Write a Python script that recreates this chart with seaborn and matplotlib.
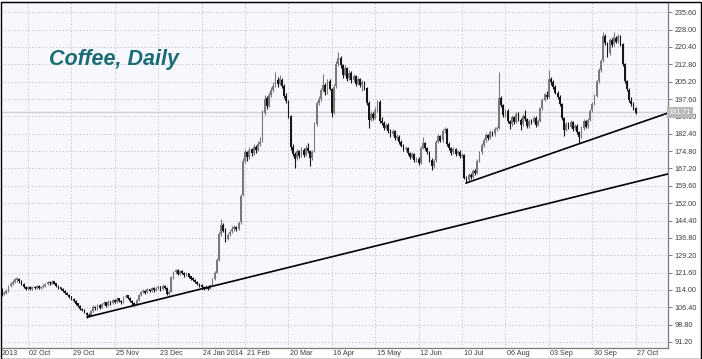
import numpy as np
import pandas as pd
import matplotlib
matplotlib.use("Agg")
import matplotlib.pyplot as plt
import matplotlib.transforms as mtrans
import seaborn as sns

# ---------------- data ----------------
opens = [114.6,112.2,112.6,113.4,115.6,116.6,117.4,118.5,119.0,117.9,116.4,115.3,114.5,115.2,114.3,115.4,114.8,115.7,114.9,115.3,
         115.8,116.6,117.4,116.8,117.7,116.9,115.6,115.1,114.3,113.4,112.7,111.9,111.2,110.1,109.1,108.1,107.0,105.7,105.3,104.0,
         102.9,102.7,104.9,106.4,105.8,107.4,106.3,107.7,108.5,107.2,109.0,108.1,109.6,108.7,110.3,109.0,108.6,110.9,111.6,110.3,
         109.3,108.2,107.7,109.6,111.7,113.0,113.7,112.9,114.3,113.6,115.0,113.9,114.7,115.6,114.2,115.9,114.8,112.2,113.1,119.6,
         121.9,122.7,121.1,122.2,121.4,120.5,121.3,119.9,119.1,118.3,117.6,116.7,116.1,115.2,114.5,115.4,114.6,116.1,118.9,121.6,
         127.1,138.6,142.4,140.1,136.5,138.3,139.6,140.9,141.4,140.7,143.6,155.4,170.6,174.3,172.1,175.6,173.9,176.7,175.3,177.9,
         179.5,191.6,197.9,194.7,199.3,201.6,203.5,205.9,204.4,206.1,203.4,199.1,196.7,190.1,176.6,173.5,171.6,174.9,172.7,175.5,
         173.3,176.2,174.9,171.7,174.6,186.6,195.9,197.6,201.6,203.9,200.7,205.6,202.1,191.6,203.1,213.1,215.5,212.3,208.1,211.1,
         206.6,209.0,205.9,207.5,204.3,206.3,203.9,204.9,202.4,195.9,188.6,191.1,189.5,192.9,196.4,188.1,187.1,185.1,186.2,183.7,
         182.3,183.4,180.5,181.1,178.9,177.3,175.7,176.2,174.1,172.3,173.4,170.9,171.5,169.6,176.3,178.4,176.1,174.4,170.9,168.3,
         170.7,178.9,181.4,179.5,183.9,184.4,178.1,176.1,174.2,175.7,173.5,174.6,172.7,173.0,163.3,162.1,164.4,163.6,166.1,165.1,
         170.6,174.3,177.5,179.7,181.7,180.7,183.1,182.1,184.5,185.1,198.1,194.9,190.6,192.5,187.9,186.6,189.7,187.6,191.1,188.5,
         186.5,190.0,188.9,185.7,188.1,187.5,189.4,186.3,188.1,193.6,197.3,199.5,198.5,206.4,205.1,202.9,200.3,198.5,195.3,189.1,
         184.1,186.7,185.3,187.4,184.7,185.9,183.0,181.1,184.9,187.8,185.6,188.5,192.6,195.7,198.9,205.4,210.3,214.5,225.1,221.9,
         217.7,223.4,221.5,224.5,222.9,224.9,221.5,212.9,205.3,201.7,196.9,195.3,193.5]
highs = [115.0,113.4,114.2,116.1,117.4,118.2,119.1,119.8,119.4,118.3,116.9,115.8,115.9,115.6,115.8,115.9,116.2,116.0,115.9,116.4,
         117.0,117.9,117.8,118.2,118.0,117.2,116.1,115.4,114.7,113.9,113.1,112.4,111.5,110.6,109.5,108.4,107.3,106.1,105.6,104.4,
         103.8,105.3,107.2,106.9,107.9,107.8,108.4,109.1,108.9,109.6,109.3,110.2,110.0,110.9,110.6,109.5,111.4,112.2,111.9,110.7,
         109.6,108.6,110.1,112.3,113.5,114.3,114.0,114.8,114.6,115.5,115.3,115.2,116.2,115.9,116.4,116.2,115.1,113.8,120.2,122.5,
         123.3,123.0,122.8,122.6,121.9,121.8,121.6,120.3,119.5,118.8,118.0,117.1,116.5,115.6,116.0,115.8,116.7,119.4,122.3,128.0,
         139.2,145.0,143.5,141.0,139.0,140.4,141.8,142.5,142.0,144.3,156.2,171.8,175.6,175.0,176.8,176.3,177.9,177.4,179.2,181.0,
         192.6,199.3,199.0,200.5,203.0,205.1,209.6,207.4,208.2,206.8,204.0,200.3,197.4,190.6,177.8,174.6,175.8,175.5,176.4,176.1,
         177.6,178.2,175.4,175.2,187.5,196.6,198.8,202.6,208.5,204.6,206.4,206.2,202.6,204.0,214.2,218.2,216.3,213.0,212.3,211.8,
         210.2,209.8,208.6,208.2,207.4,206.9,205.9,205.4,202.9,196.6,192.2,191.8,193.9,197.3,197.0,189.6,187.8,187.2,186.9,184.3,
         184.4,184.0,182.2,181.7,179.6,177.8,177.2,176.8,174.6,174.4,173.9,172.4,172.0,177.0,180.8,179.0,176.8,175.0,171.6,171.4,
         179.6,182.4,182.0,184.6,185.4,184.9,178.9,176.8,176.6,176.3,175.5,175.2,173.8,173.4,164.0,165.2,165.0,167.0,166.8,171.2,
         175.0,178.2,180.4,182.6,182.4,184.0,183.8,185.2,185.9,209.5,199.0,195.6,193.4,193.1,188.6,190.6,190.3,192.0,191.8,189.1,
         190.9,192.8,189.5,189.0,188.8,190.3,190.0,188.8,194.3,198.0,200.4,201.2,210.3,207.2,205.8,203.6,201.1,199.2,196.0,189.8,
         187.6,187.4,188.3,188.0,186.8,186.5,183.7,185.6,188.7,188.5,189.2,193.3,196.4,199.6,206.1,211.0,215.2,226.8,226.0,222.6,
         224.3,224.2,227.0,225.4,226.1,225.6,222.2,213.6,206.0,202.4,198.6,196.1,194.2]
lows = [111.3,111.6,112.1,113.0,115.1,116.0,116.9,117.6,117.2,116.0,114.7,113.9,114.1,113.8,114.0,114.3,114.5,114.2,114.4,114.9,
        115.4,116.2,116.3,116.5,116.4,115.3,114.6,113.8,113.1,112.2,111.6,110.6,109.6,108.8,107.6,106.5,105.4,104.7,103.7,101.7,
        102.0,102.4,104.5,105.2,105.4,105.7,106.0,107.2,106.6,106.9,107.5,107.8,108.1,108.4,108.7,108.0,108.3,110.4,109.9,108.7,
        107.6,107.1,107.4,109.2,111.3,112.5,112.2,112.6,112.9,113.2,113.3,113.5,114.3,113.7,113.9,114.4,111.6,111.8,112.9,119.0,
        121.1,120.4,120.6,120.8,119.8,120.0,119.3,118.5,117.7,117.0,116.1,115.5,114.6,114.0,114.2,114.0,114.3,115.8,118.5,121.2,
        126.8,137.8,139.2,135.2,135.8,137.5,138.9,140.0,139.6,140.2,143.0,155.0,169.5,170.4,171.5,172.5,173.2,174.0,174.8,177.2,
        179.0,190.8,193.4,194.0,198.6,200.8,202.9,203.0,203.6,202.6,198.2,195.9,189.4,175.2,172.6,167.4,170.9,171.8,172.1,172.3,
        172.8,174.0,168.3,170.8,174.2,186.0,194.8,196.9,200.8,199.5,200.0,201.4,189.8,191.0,202.6,212.2,211.4,207.0,207.6,205.6,
        205.8,204.8,205.0,203.3,203.6,202.9,201.2,201.6,195.2,185.0,187.8,188.4,188.8,192.0,187.2,186.4,184.2,184.4,182.9,181.0,
        181.6,179.6,179.8,177.9,176.4,174.7,175.0,173.1,171.4,171.6,170.0,170.2,168.6,169.2,175.6,175.2,173.6,170.2,166.5,167.6,
        170.2,178.2,178.6,179.0,182.6,177.2,175.4,173.2,173.6,172.6,172.9,171.8,171.9,162.4,160.8,161.5,162.6,163.0,164.2,164.6,
        170.0,173.6,176.8,179.0,179.8,180.1,181.2,181.6,183.6,184.6,194.2,189.6,189.9,187.2,184.6,186.0,186.7,187.0,187.8,184.0,
        186.0,188.2,184.8,185.1,186.6,186.9,185.4,185.7,187.6,193.0,196.6,197.6,198.0,203.8,202.2,199.6,197.8,194.6,188.4,181.2,
        183.4,184.4,184.7,183.8,184.0,182.3,178.4,180.5,184.2,184.7,185.0,188.0,192.0,195.0,198.3,204.8,209.6,214.0,221.2,216.2,
        217.1,220.6,220.9,222.0,222.3,220.8,212.2,204.6,201.0,196.2,194.6,192.8,191.0]
closes = [112.0,112.5,113.5,115.5,116.8,117.5,118.6,119.2,117.8,116.5,115.2,114.6,115.1,114.4,115.3,114.9,115.6,114.8,115.4,115.9,
          116.5,117.3,116.9,117.6,116.8,115.7,115.0,114.2,113.5,112.6,112.0,111.1,110.0,109.2,108.0,106.9,105.8,105.2,104.1,103.0,
          102.6,104.8,106.5,105.9,107.3,106.2,107.8,108.4,107.1,108.9,108.0,109.5,108.6,110.2,109.1,108.5,110.8,111.5,110.4,109.2,
          108.1,107.6,109.5,111.8,112.9,113.6,112.8,114.2,113.5,114.9,113.8,114.6,115.5,114.1,115.8,114.9,112.1,113.0,119.5,121.8,
          122.6,121.0,122.1,121.3,120.4,121.2,119.8,119.0,118.2,117.5,116.6,116.0,115.1,114.6,115.3,114.5,116.0,118.8,121.5,127.0,
          138.5,142.6,140.0,136.4,138.2,139.5,140.8,141.5,140.6,143.5,155.0,170.5,174.2,172.0,175.5,173.8,176.6,175.2,177.8,179.0,
          191.5,197.8,194.6,199.2,201.5,203.4,205.8,204.3,206.2,203.5,199.0,196.8,190.2,176.5,173.4,171.5,174.8,172.6,175.4,173.2,
          176.1,174.8,171.6,174.5,186.5,195.8,197.5,201.5,203.8,200.6,205.5,202.2,191.5,203.0,213.0,215.6,212.4,208.0,211.2,206.5,
          209.1,205.8,207.6,204.2,206.4,203.8,205.0,202.5,196.0,188.5,191.2,189.4,192.8,196.5,188.0,187.2,185.0,186.3,183.8,182.2,
          183.5,180.4,181.2,178.8,177.2,175.6,176.3,174.0,172.2,173.5,170.8,171.6,169.5,176.2,178.5,176.0,174.5,171.0,168.2,170.6,
          178.8,181.5,179.4,183.8,184.5,178.0,176.2,174.1,175.8,173.4,174.7,172.6,173.1,163.2,162.0,164.5,163.5,166.2,165.0,170.5,
          174.2,177.4,179.6,181.8,180.6,183.2,182.0,184.4,185.0,198.2,195.0,190.5,192.6,188.0,186.5,189.8,187.5,191.2,188.6,186.4,
          190.1,189.0,185.6,188.2,187.4,189.5,186.2,188.0,193.5,197.2,199.6,198.4,206.5,205.2,203.0,200.4,198.6,195.4,189.2,184.0,
          186.8,185.2,187.5,184.6,186.0,183.1,181.0,184.8,187.9,185.5,188.4,192.5,195.6,198.8,205.3,210.2,214.4,225.2,222.0,217.6,
          223.5,221.4,224.6,222.8,225.0,221.6,213.0,205.4,201.8,197.0,195.4,193.6,191.7]

tick_labels = ["02 Oct", "29 Oct", "25 Nov", "23 Dec", "24 Jan 2014", "21 Feb", "20 Mar", "16 Apr",
               "15 May", "12 Jun", "10 Jul", "06 Aug", "03 Sep", "30 Sep", "27 Oct"]
tick_bars = [12, 32, 52, 72, 92, 112, 132, 152, 172, 192, 212, 232, 252, 272, 292]
y_ticks = [91.20, 98.80, 106.40, 114.00, 121.60, 129.20, 136.80, 144.40, 152.00, 159.60, 167.20,
           174.80, 182.40, 190.00, 197.60, 205.20, 212.80, 220.40, 228.00, 235.60]
last_price = 191.71

# trend lines (bar index, price)
trend1_x = [39.2, 306.9]
trend1_y = [102.1, 164.8]
trend2_x = [213.8, 306.9]
trend2_y = [160.8, 191.5]

df = pd.DataFrame({"open": opens, "high": highs, "low": lows, "close": closes})
df["bar"] = np.arange(len(df))

# ---------------- figure ----------------
sns.set_style("white")
plt.rcParams["font.family"] = ["Liberation Sans", "DejaVu Sans"]

W, H = 702, 359
fig = plt.figure(figsize=(W / 100, H / 100), dpi=100)
fig.patch.set_facecolor("white")

x0, x1 = 1, 668
y_top, y_bot = 2, 348
ax = fig.add_axes([x0 / W, (H - y_bot) / H, (x1 - x0) / W, (y_bot - y_top) / H])
ax.set_facecolor("#f7f8fd")

ax.set_xlim(-0.44, 306.9)
ax.set_ylim(88.57, 240.1)

# grid
for t in tick_bars:
    ax.axvline(t, color="#c9c9c9", lw=0.7, ls=(0, (1.5, 2)), zorder=0)
for t in y_ticks:
    ax.axhline(t, color="#c9c9c9", lw=0.7, ls=(0, (1.5, 2)), zorder=0)

# current price line
ax.axhline(last_price, color="#d2d2d2", lw=1.0, zorder=1)

# candles
up = df["close"] >= df["open"]
cols = np.where(up, "#7a7a7a", "#161616")
ax.vlines(df["bar"], df["low"], df["high"], colors=cols, lw=0.8, zorder=3)
body_lo = np.minimum(df["open"], df["close"])
body_h = np.maximum(np.abs(df["close"] - df["open"]), 0.4)
ax.bar(df["bar"], body_h, bottom=body_lo, width=0.8, color=cols, linewidth=0, zorder=4)

# trend lines
tl = pd.DataFrame({"x": trend1_x + trend2_x, "y": trend1_y + trend2_y,
                   "line": ["a", "a", "b", "b"]})
sns.lineplot(data=tl, x="x", y="y", units="line", estimator=None, color="black",
             lw=1.2, ax=ax, zorder=5, legend=False)
ax.set_xlabel("")
ax.set_ylabel("")

# axes styling
ax.spines["left"].set_visible(False)
for s in ["right", "bottom", "top"]:
    ax.spines[s].set_color("#7a7a7a")
    ax.spines[s].set_linewidth(0.9)

ax.yaxis.tick_right()
ax.set_yticks(y_ticks)
ax.set_yticklabels([f"{v:.2f}" for v in y_ticks])
ax.tick_params(axis="y", which="both", direction="out", length=3, width=0.7, color="#7a7a7a",
               labelsize=5.2, labelcolor="#3c3c3c", pad=1.5, right=True, left=False)
ax.set_xticks(tick_bars)
ax.set_xticklabels(tick_labels)
ax.tick_params(axis="x", direction="out", length=2.2, width=0.7, color="#7a7a7a",
               labelsize=5.2, labelcolor="#3c3c3c", pad=-0.6)
offset = mtrans.ScaledTranslation(1.5 / 100, 0, fig.dpi_scale_trans)
for lab in ax.get_xticklabels():
    lab.set_horizontalalignment("left")
    lab.set_transform(lab.get_transform() + offset)

# clipped first label
fig.text(2 / W, 1 - 353.5 / H, "2013", fontsize=5.2, color="#3c3c3c", va="center", ha="left")

# last price tag
ax.text(306.9 + 0.3, last_price, f"{last_price:.2f}", transform=ax.transData,
        fontsize=5.2, color="white", va="center", ha="left", zorder=10, clip_on=False,
        bbox=dict(boxstyle="square,pad=0.25", fc="#b9b9b9", ec="none"))

# title
ax.text(49 / W, 1 - 59 / H, "Coffee, Daily", transform=fig.transFigure,
        fontsize=15.5, fontweight="bold", fontstyle="italic", color="#1b6b75",
        ha="left", va="center", zorder=10)

# outer border
fig.add_artist(plt.Rectangle((0.5 / W, 0.5 / H), (W - 2) / W, (H - 2) / H, transform=fig.transFigure,
                             fill=False, ec="black", lw=1.0))

fig.savefig("out.png", dpi=100)
